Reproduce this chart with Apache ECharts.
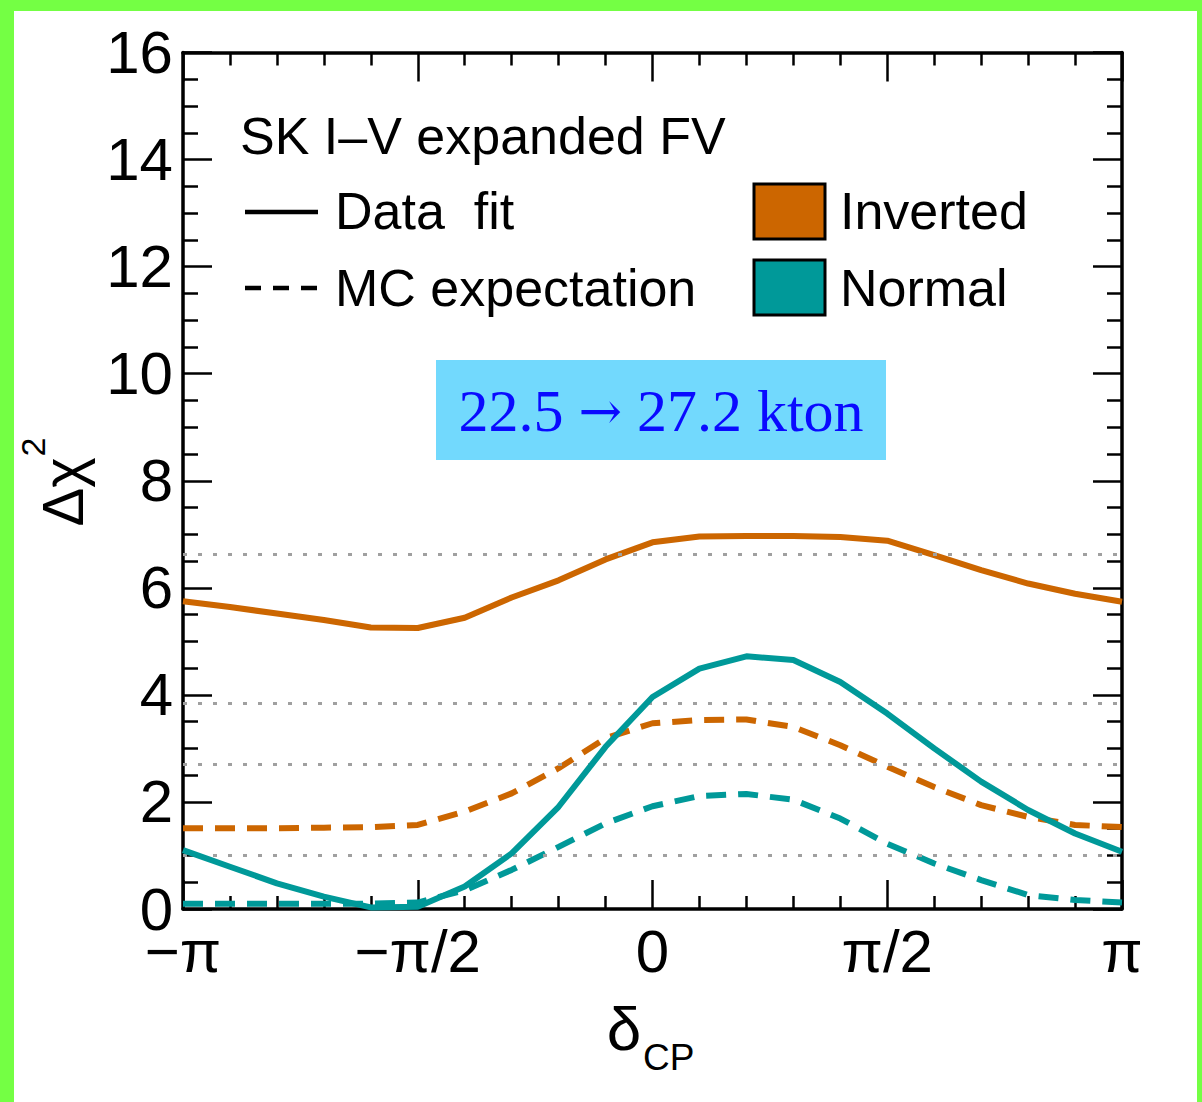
<!DOCTYPE html>
<html>
<head>
<meta charset="utf-8">
<script src="https://cdn.jsdelivr.net/npm/echarts@6/dist/echarts.min.js"></script>
<style>
  html, body { margin: 0; padding: 0; background: #74ff44; }
  #sheet { position: absolute; left: 14px; top: 11px; width: 1183px; height: 1091px; background: #ffffff; }
  #chart { position: absolute; left: 0; top: 0; width: 1202px; height: 1102px; }
</style>
</head>
<body>
<div id="sheet"></div>
<div id="chart"></div>
<script>
// delta_CP in units of pi
const deltaOverPi = [-1.0, -0.9, -0.8, -0.7, -0.6, -0.5, -0.4, -0.3, -0.2, -0.1, 0.0,
                      0.1,  0.2,  0.3,  0.4,  0.5,  0.6,  0.7,  0.8,  0.9, 1.0];

// Delta chi^2, data fit
const invertedFit = [5.75, 5.64, 5.52, 5.40, 5.26, 5.25, 5.44, 5.82, 6.14, 6.53, 6.85,
                     6.96, 6.97, 6.97, 6.95, 6.88, 6.61, 6.33, 6.08, 5.89, 5.74];
const normalFit   = [1.10, 0.79, 0.48, 0.23, 0.03, 0.04, 0.42, 1.04, 1.91, 3.03, 3.96,
                     4.49, 4.72, 4.65, 4.24, 3.65, 3.00, 2.38, 1.85, 1.41, 1.07];

// Delta chi^2, MC expectation
const invertedMC  = [1.51, 1.51, 1.51, 1.52, 1.53, 1.57, 1.82, 2.16, 2.63, 3.19, 3.47,
                     3.53, 3.54, 3.40, 3.06, 2.66, 2.28, 1.94, 1.72, 1.57, 1.53];
const normalMC    = [0.10, 0.10, 0.10, 0.10, 0.10, 0.12, 0.35, 0.73, 1.16, 1.60, 1.92,
                     2.11, 2.15, 2.04, 1.69, 1.22, 0.85, 0.54, 0.26, 0.17, 0.12];

// confidence-level reference lines (1 dof: 68%, 90%, 95%, 99%)
const clLevels = [1.0, 2.71, 3.84, 6.63];

// x tick labels
const xTickValues = [-1, -0.5, 0, 0.5, 1];
const xTickLabels = ['\u2212\u03c0', '\u2212\u03c0/2', '0', '\u03c0/2', '\u03c0'];

const ORANGE = '#cc6600';
const TEAL = '#009999';
const SANS = '"Liberation Sans", Arial, Helvetica, sans-serif';
const SERIF = '"Liberation Serif", "Times New Roman", serif';

const pair = (xs, ys) => xs.map((x, i) => [x, ys[i]]);

const axisLine = { show: true, onZero: false, lineStyle: { color: '#000', width: 3.5 } };

function xAxisDef(position, showLabels) {
  return {
    type: 'value', position: position, min: -1, max: 1, interval: 0.5,
    axisLine: axisLine,
    axisTick: { show: true, inside: true, length: 29, lineStyle: { color: '#000', width: 2.5 } },
    minorTick: { show: true, splitNumber: 5, length: 13, lineStyle: { color: '#000', width: 2.5 } },
    splitLine: { show: false },
    axisLabel: {
      show: showLabels, margin: 27, color: '#000', fontSize: 60, lineHeight: 30, fontFamily: SANS,
      formatter: v => {
        const k = xTickValues.findIndex(t => Math.abs(t - v) < 1e-9);
        return k >= 0 ? xTickLabels[k] : '';
      }
    }
  };
}

function yAxisDef(position, showLabels) {
  return {
    type: 'value', position: position, min: 0, max: 16, interval: 2,
    axisLine: axisLine,
    axisTick: { show: true, inside: true, length: 29, lineStyle: { color: '#000', width: 2.5 } },
    minorTick: { show: true, splitNumber: 4, length: 15, lineStyle: { color: '#000', width: 2.5 } },
    splitLine: { show: false },
    axisLabel: { show: showLabels, margin: 10, color: '#000', fontSize: 60, lineHeight: 36, fontFamily: SANS }
  };
}

function curve(name, ys, color, dashed, z) {
  return {
    name: name, type: 'line', data: pair(deltaOverPi, ys),
    showSymbol: false, smooth: false, z: z,
    lineStyle: { color: color, width: 6, type: dashed ? [20, 12] : 'solid', cap: 'butt' },
    emphasis: { disabled: true }
  };
}

const chart = echarts.init(document.getElementById('chart'), null, { renderer: 'svg' });

chart.setOption({
  animation: false,
  backgroundColor: 'transparent',
  grid: { left: 183, right: 80, top: 52.5, bottom: 193, show: false },
  xAxis: [xAxisDef('bottom', true), xAxisDef('top', false)],
  yAxis: [yAxisDef('left', true), yAxisDef('right', false)],
  series: [
    {
      name: 'CL', type: 'line', data: [], z: 1,
      markLine: {
        silent: true, symbol: ['none', 'none'], label: { show: false },
        lineStyle: { color: '#a0a0a0', type: [4, 11], width: 3 },
        data: clLevels.map(v => ({ yAxis: v }))
      }
    },
    curve('Inverted MC expectation', invertedMC, ORANGE, true, 2),
    curve('Normal MC expectation', normalMC, TEAL, true, 3),
    curve('Inverted data fit', invertedFit, ORANGE, false, 4),
    curve('Normal data fit', normalFit, TEAL, false, 5)
  ],
  graphic: [
    // axis titles
    { type: 'text', x: 62, y: 492, rotation: Math.PI / 2,
      style: { text: '\u0394\u03c7', font: '58px ' + SANS, fill: '#000', align: 'center', verticalAlign: 'middle' } },
    { type: 'text', x: 33, y: 447, rotation: Math.PI / 2,
      style: { text: '2', font: '34px ' + SANS, fill: '#000', align: 'center', verticalAlign: 'middle' } },
    { type: 'text', x: 624, y: 1028,
      style: { text: '\u03b4', font: '62px ' + SANS, fill: '#000', align: 'center', verticalAlign: 'middle' } },
    { type: 'text', x: 643, y: 1057,
      style: { text: 'CP', font: '37px ' + SANS, fill: '#000', align: 'left', verticalAlign: 'middle' } },

    // legend
    { type: 'text', x: 240, y: 136,
      style: { text: 'SK I\u2013V expanded FV', font: '52px ' + SANS, fill: '#000', align: 'left', verticalAlign: 'middle' } },
    { type: 'line', shape: { x1: 245, y1: 212, x2: 318, y2: 212 },
      style: { stroke: '#000', lineWidth: 4.5 } },
    { type: 'text', x: 335, y: 211,
      style: { text: 'Data  fit', font: '52px ' + SANS, fill: '#000', align: 'left', verticalAlign: 'middle' } },
    { type: 'line', shape: { x1: 245, y1: 288, x2: 318, y2: 288 },
      style: { stroke: '#000', lineWidth: 4.5, lineDash: [16, 12] } },
    { type: 'text', x: 335, y: 288,
      style: { text: 'MC expectation', font: '52px ' + SANS, fill: '#000', align: 'left', verticalAlign: 'middle' } },
    { type: 'rect', shape: { x: 754, y: 184, width: 71, height: 55 },
      style: { fill: ORANGE, stroke: '#000', lineWidth: 3 } },
    { type: 'text', x: 840, y: 211,
      style: { text: 'Inverted', font: '52px ' + SANS, fill: '#000', align: 'left', verticalAlign: 'middle' } },
    { type: 'rect', shape: { x: 754, y: 260, width: 71, height: 55 },
      style: { fill: TEAL, stroke: '#000', lineWidth: 3 } },
    { type: 'text', x: 840, y: 288,
      style: { text: 'Normal', font: '52px ' + SANS, fill: '#000', align: 'left', verticalAlign: 'middle' } },

    // exposure note
    { type: 'rect', shape: { x: 436, y: 360, width: 450, height: 100 },
      style: { fill: '#72d9fd' } },
    { type: 'text', x: 661, y: 411,
      style: {
        text: '{n|22.5 }{a|\u2192}{n| 27.2 kton}',
        align: 'center', verticalAlign: 'middle',
        rich: {
          n: { fontFamily: SERIF, fontSize: 60, fill: '#0a0aff', lineHeight: 66 },
          a: { fontFamily: '"DejaVu Serif", serif', fontSize: 52, fill: '#0a0aff', lineHeight: 66 }
        }
      } }
  ]
});
</script>
</body>
</html>
